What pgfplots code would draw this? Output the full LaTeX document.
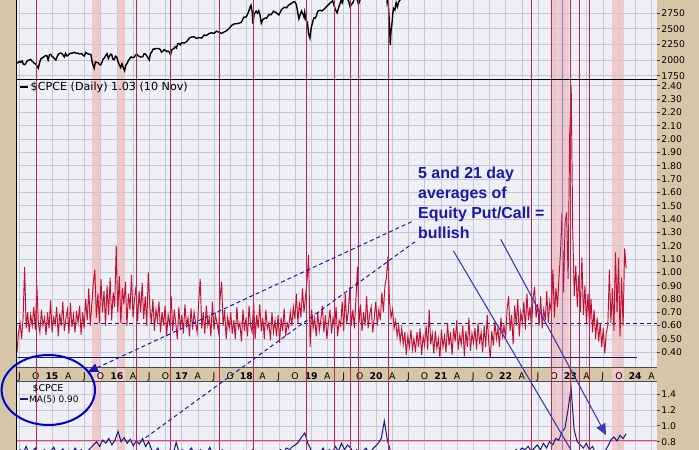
\documentclass[border=0pt]{standalone}
\usepackage{pgfplots}
\pgfplotsset{compat=1.18}
\usepackage{pgfplotstable}
\usepackage{fontspec}
\setmainfont{DejaVu Sans}
\newfontfamily\annfont{Liberation Sans}
\usetikzlibrary{arrows.meta}

\definecolor{tanbg}{RGB}{214,198,168}
\definecolor{panelbg}{RGB}{239,239,247}
\definecolor{gridc}{RGB}{200,200,212}
\definecolor{sig}{RGB}{195,35,80}
\definecolor{bandc}{RGB}{240,202,202}
\definecolor{cpce}{RGB}{195,15,50}
\definecolor{navy}{RGB}{25,25,120}
\definecolor{annot}{RGB}{25,25,170}
\definecolor{maline}{RGB}{235,70,110}
\definecolor{purp}{RGB}{150,120,210}

\pgfplotstableread[row sep=\\,header=false]{
0.40\\0.55\\0.62\\0.50\\0.66\\1.04\\0.58\\0.70\\0.55\\0.68\\0.60\\0.74\\0.57\\0.90\\0.62\\0.55\\0.72\\0.60\\0.66\\0.53\\
0.70\\0.58\\0.79\\0.55\\0.66\\0.61\\0.74\\0.52\\0.69\\0.60\\0.78\\0.56\\0.65\\0.72\\0.54\\0.77\\0.59\\0.68\\0.55\\0.71\\
0.62\\0.75\\0.53\\0.70\\0.58\\0.80\\0.64\\0.88\\0.60\\0.76\\0.92\\1.02\\0.66\\0.84\\0.62\\0.95\\0.70\\0.86\\0.60\\0.90\\
0.68\\0.96\\0.64\\0.85\\0.74\\1.20\\0.70\\0.97\\0.62\\0.88\\0.76\\0.93\\0.60\\0.84\\0.72\\0.98\\0.66\\0.80\\0.90\\0.63\\
0.86\\0.70\\0.92\\0.65\\0.82\\0.60\\1.00\\0.74\\0.62\\0.80\\0.56\\0.72\\0.64\\0.78\\0.55\\0.70\\0.60\\0.75\\0.52\\0.68\\
0.60\\0.82\\0.56\\0.72\\0.62\\0.50\\0.74\\0.58\\0.68\\0.54\\0.76\\0.60\\0.66\\0.52\\0.73\\0.57\\0.70\\0.62\\0.55\\0.78\\
0.95\\0.58\\0.70\\0.54\\0.75\\0.60\\0.66\\0.52\\0.78\\0.57\\0.68\\0.62\\0.55\\0.80\\0.93\\0.60\\0.72\\0.50\\0.66\\0.58\\
0.70\\0.54\\0.64\\0.50\\0.74\\0.58\\0.62\\0.48\\0.72\\0.56\\0.66\\0.52\\0.75\\0.60\\0.55\\0.78\\0.50\\0.68\\0.58\\0.76\\
0.56\\0.66\\0.50\\0.72\\0.58\\0.62\\0.49\\0.70\\0.55\\0.64\\0.52\\0.68\\0.47\\0.66\\0.56\\0.73\\0.52\\0.62\\0.58\\0.70\\
0.60\\0.74\\0.65\\0.84\\0.62\\0.78\\0.66\\0.88\\0.70\\0.82\\0.94\\1.13\\0.44\\0.72\\0.58\\0.66\\0.52\\0.70\\0.56\\0.64\\
0.75\\0.55\\0.68\\0.50\\0.62\\0.72\\0.54\\0.66\\0.58\\0.74\\0.52\\0.64\\0.60\\0.78\\0.56\\0.84\\0.62\\0.70\\0.89\\0.60\\
0.72\\0.58\\0.80\\1.04\\0.62\\0.76\\0.56\\0.70\\0.60\\0.82\\0.58\\0.68\\0.74\\0.55\\0.66\\0.78\\0.60\\0.72\\0.64\\0.85\\
0.70\\0.90\\0.96\\1.12\\0.78\\0.66\\0.72\\0.58\\0.64\\0.52\\0.60\\0.48\\0.58\\0.46\\0.55\\0.38\\0.52\\0.44\\0.57\\0.42\\
0.50\\0.40\\0.55\\0.44\\0.58\\0.38\\0.52\\0.45\\0.60\\0.42\\0.72\\0.46\\0.54\\0.39\\0.56\\0.43\\0.50\\0.36\\0.57\\0.44\\
0.52\\0.40\\0.62\\0.45\\0.55\\0.38\\0.58\\0.48\\0.64\\0.42\\0.53\\0.46\\0.60\\0.37\\0.56\\0.44\\0.66\\0.41\\0.54\\0.47\\
0.58\\0.42\\0.62\\0.46\\0.55\\0.40\\0.60\\0.44\\0.68\\0.47\\0.36\\0.56\\0.45\\0.63\\0.50\\0.58\\0.44\\0.66\\0.52\\0.60\\
0.50\\0.72\\0.82\\0.56\\0.68\\0.46\\0.75\\0.60\\0.80\\0.52\\0.70\\0.62\\0.78\\0.57\\0.84\\0.64\\0.74\\0.58\\0.80\\0.89\\
0.66\\0.76\\0.60\\0.82\\0.58\\0.72\\0.64\\0.86\\0.62\\0.78\\0.70\\1.02\\0.66\\0.88\\0.74\\0.96\\1.15\\1.45\\0.85\\1.37\\
1.45\\0.95\\2.03\\2.40\\1.32\\0.82\\1.05\\0.74\\0.98\\0.70\\1.11\\0.68\\0.90\\0.62\\0.84\\0.58\\0.80\\0.55\\0.72\\0.50\\
0.66\\0.48\\0.62\\0.44\\0.58\\0.39\\0.55\\0.60\\1.02\\0.62\\0.88\\0.56\\1.15\\0.70\\1.11\\0.52\\0.96\\0.60\\1.18\\1.03\\
}\cpcetable

\pgfplotstableread[row sep=\\,header=false]{
0.62\\0.70\\0.66\\0.74\\0.64\\0.68\\0.72\\0.63\\0.66\\0.70\\0.62\\0.68\\0.73\\0.64\\0.67\\0.71\\0.63\\0.69\\0.65\\0.72\\
0.66\\0.70\\0.64\\0.68\\0.72\\0.76\\0.80\\0.74\\0.82\\0.78\\0.84\\0.76\\0.82\\0.93\\0.80\\0.85\\0.78\\0.83\\0.75\\0.81\\
0.77\\0.84\\0.74\\0.80\\0.70\\0.66\\0.72\\0.64\\0.68\\0.62\\0.70\\0.65\\0.79\\0.66\\0.70\\0.63\\0.68\\0.72\\0.64\\0.67\\
0.70\\0.62\\0.66\\0.73\\0.64\\0.68\\0.61\\0.70\\0.65\\0.62\\0.68\\0.60\\0.66\\0.63\\0.69\\0.61\\0.65\\0.70\\0.62\\0.67\\
0.64\\0.60\\0.66\\0.62\\0.68\\0.64\\0.70\\0.66\\0.72\\0.70\\0.74\\0.76\\0.80\\0.86\\0.91\\0.78\\0.70\\0.64\\0.68\\0.66\\
0.72\\0.64\\0.70\\0.66\\0.74\\0.68\\0.78\\0.70\\0.76\\0.72\\0.66\\0.70\\0.64\\0.68\\0.72\\0.66\\0.70\\0.74\\0.78\\0.84\\
1.06\\0.82\\0.68\\0.60\\0.56\\0.52\\0.50\\0.48\\0.50\\0.47\\0.49\\0.46\\0.48\\0.45\\0.47\\0.50\\0.46\\0.48\\0.45\\0.49\\
0.47\\0.50\\0.46\\0.48\\0.52\\0.47\\0.49\\0.46\\0.50\\0.48\\0.45\\0.49\\0.47\\0.51\\0.48\\0.52\\0.50\\0.54\\0.52\\0.56\\
0.58\\0.62\\0.66\\0.70\\0.68\\0.72\\0.70\\0.74\\0.68\\0.72\\0.76\\0.70\\0.78\\0.72\\0.80\\0.76\\0.84\\0.82\\0.92\\0.97\\
1.20\\1.48\\0.95\\0.80\\0.76\\0.72\\0.78\\0.70\\0.74\\0.66\\0.62\\0.60\\0.68\\0.74\\0.82\\0.86\\0.81\\0.88\\0.84\\0.90\\
}\matable

\pgfplotsset{
  panel/.style={
    scale only axis, width=640bp, xmin=2014.46, xmax=2024.336,
    anchor=south west,
    axis line style={draw=none},
    grid=major, grid style={gridc, line width=0.5bp},
    xtick={2014.5,2014.75,2015,2015.25,2015.5,2015.75,2016,2016.25,2016.5,2016.75,2017,2017.25,2017.5,2017.75,2018,2018.25,2018.5,2018.75,2019,2019.25,2019.5,2019.75,2020,2020.25,2020.5,2020.75,2021,2021.25,2021.5,2021.75,2022,2022.25,2022.5,2022.75,2023,2023.25,2023.5,2023.75,2024,2024.25},
    xtick style={draw=none},
    ytick pos=right, yticklabel pos=right,
    tick align=outside, major tick length=3bp,
    ytick style={black!75, line width=0.6bp},
    tick label style={font=\fontsize{9.3}{10}\selectfont, inner sep=1.2bp},
    /pgf/number format/assume math mode=true,
  }
}

\begin{document}
\begin{tikzpicture}
\useasboundingbox (0,0) rectangle (699bp,450bp);
\fill[tanbg] (0,0) rectangle (699bp,450bp);
% panel backgrounds
\fill[panelbg] (17bp,370bp) rectangle (657bp,450bp);
\fill[panelbg] (17bp,83bp) rectangle (657bp,370bp);
\fill[panelbg] (17bp,0bp) rectangle (657bp,69bp);

% signal bands and lines spanning all panels
\begin{axis}[scale only axis, width=640bp, height=450bp, at={(17bp,0bp)}, anchor=south west,
  xmin=2014.46, xmax=2024.336, ymin=0, ymax=1, hide axis]
  \fill[bandc] (axis cs:2015.622,0) rectangle (axis cs:2015.752,1);
  \fill[bandc] (axis cs:2016.008,0) rectangle (axis cs:2016.127,1);
  \fill[bandc] (axis cs:2022.711,0) rectangle (axis cs:2022.978,1);
  \fill[bandc] (axis cs:2023.647,0) rectangle (axis cs:2023.824,1);
\end{axis}

% top panel: S&P 500
\begin{axis}[panel, at={(17bp,370bp)}, height=80bp, ymin=1681, ymax=2957,
  ytick={1750,2000,2250,2500,2750}, xticklabels={},
  yticklabel style={/pgf/number format/set thousands separator={}}]
\addplot[black, line width=1.4bp] coordinates {
(2014.46,1950) (2014.48,1962) (2014.50,1978) (2014.52,1965) (2014.54,1985) (2014.56,1930) (2014.58,1925) (2014.60,1955)
(2014.62,1990) (2014.65,2000) (2014.67,2010) (2014.69,1985) (2014.71,1965) (2014.75,1930) (2014.77,1905) (2014.79,1870)
(2014.81,1965) (2014.83,2020) (2014.86,2040) (2014.88,2055) (2014.90,2070) (2014.92,2070) (2014.94,2000) (2014.96,2080)
(2014.98,2090) (2015.00,2058) (2015.02,2044) (2015.04,2020) (2015.06,2000) (2015.08,2055) (2015.10,2095) (2015.13,2110)
(2015.15,2105) (2015.17,2080) (2015.19,2050) (2015.21,2105) (2015.23,2065) (2015.25,2075) (2015.27,2100) (2015.29,2110)
(2015.31,2108) (2015.33,2115) (2015.35,2122) (2015.37,2107) (2015.40,2110) (2015.42,2095) (2015.44,2095) (2015.46,2105)
(2015.48,2075) (2015.50,2065) (2015.52,2120) (2015.54,2105) (2015.56,2095) (2015.58,2090) (2015.60,2090) (2015.62,1970)
(2015.64,1893) (2015.65,1867) (2015.67,1970) (2015.69,1961) (2015.71,1958) (2015.73,1932) (2015.75,1920) (2015.77,1960)
(2015.79,2018) (2015.81,2033) (2015.83,2075) (2015.85,2100) (2015.87,2024) (2015.90,2089) (2015.92,2090) (2015.94,2012)
(2015.96,2005) (2015.98,2060) (2016.00,2044) (2016.02,1970) (2016.04,1920) (2016.06,1880) (2016.08,1940) (2016.10,1880)
(2016.12,1829) (2016.14,1917) (2016.16,1948) (2016.18,1993) (2016.20,2022) (2016.22,2049) (2016.25,2037) (2016.27,2047)
(2016.29,2080) (2016.31,2091) (2016.33,2065) (2016.35,2057) (2016.37,2046) (2016.40,2052) (2016.42,2099) (2016.44,2096)
(2016.46,2071) (2016.48,2037) (2016.50,2000) (2016.52,2102) (2016.54,2129) (2016.56,2175) (2016.58,2173) (2016.60,2182)
(2016.62,2184) (2016.65,2180) (2016.67,2169) (2016.69,2128) (2016.71,2139) (2016.73,2164) (2016.75,2153) (2016.77,2133)
(2016.79,2141) (2016.81,2126) (2016.83,2085) (2016.85,2164) (2016.88,2181) (2016.90,2213) (2016.92,2191) (2016.94,2259)
(2016.96,2263) (2016.98,2239) (2017.00,2277) (2017.04,2270) (2017.08,2295) (2017.12,2351) (2017.15,2364) (2017.19,2372)
(2017.23,2344) (2017.27,2359) (2017.31,2349) (2017.35,2399) (2017.38,2390) (2017.42,2420) (2017.46,2433) (2017.50,2425)
(2017.54,2459) (2017.58,2441) (2017.62,2425) (2017.65,2443) (2017.69,2465) (2017.73,2500) (2017.77,2550) (2017.81,2575)
(2017.85,2580) (2017.88,2585) (2017.92,2600) (2017.96,2680) (2018.00,2690) (2018.04,2786) (2018.06,2850) (2018.07,2873)
(2018.09,2762) (2018.10,2581) (2018.12,2732) (2018.15,2779) (2018.17,2747) (2018.19,2786) (2018.21,2716) (2018.23,2588)
(2018.25,2640) (2018.27,2656) (2018.29,2670) (2018.31,2664) (2018.35,2727) (2018.38,2721) (2018.42,2779) (2018.46,2754)
(2018.50,2718) (2018.54,2801) (2018.58,2840) (2018.62,2833) (2018.65,2874) (2018.69,2901) (2018.73,2929) (2018.75,2925)
(2018.77,2886) (2018.79,2767) (2018.81,2658) (2018.83,2723) (2018.85,2781) (2018.87,2736) (2018.89,2681) (2018.90,2760)
(2018.92,2633) (2018.94,2600) (2018.96,2416) (2018.98,2351) (2019.00,2510) (2019.02,2596) (2019.04,2670) (2019.06,2664)
(2019.08,2707) (2019.10,2775) (2019.13,2792) (2019.17,2784) (2019.21,2822) (2019.25,2867) (2019.29,2907) (2019.33,2945)
(2019.35,2881) (2019.37,2812) (2019.40,2752) (2019.42,2826) (2019.44,2886) (2019.46,2950) (2019.48,2913) (2019.50,2990)
(2019.54,3013) (2019.58,2932) (2019.60,2847) (2019.62,2883) (2019.65,2926) (2019.67,3007) (2019.69,2992) (2019.71,2961)
(2019.73,2887) (2019.75,2952) (2019.77,2986) (2019.79,3023) (2019.83,3070) (2019.90,3140) (2020.00,3230) (2020.10,3330)
(2020.13,3386) (2020.15,3337) (2020.16,3128) (2020.17,2954) (2020.18,3023) (2020.19,2882) (2020.20,2711) (2020.21,2480)
(2020.215,2386) (2020.22,2237) (2020.23,2447) (2020.24,2527) (2020.25,2626) (2020.26,2749) (2020.27,2823) (2020.29,2798)
(2020.31,2912) (2020.33,2848) (2020.35,2929) (2020.37,2955) (2020.40,3055) (2020.42,3232) (2020.45,3097) (2020.50,3185)
(2020.60,3380) (2020.80,3400) (2021.00,3750) (2022.00,4770) (2022.30,4100) (2022.50,3670) (2022.60,4280) (2022.78,3580)
(2023.00,3850) (2023.50,4450) (2023.60,4580) (2023.82,4120) (2023.86,4415)
};
\end{axis}

% middle panel: $CPCE daily
\begin{axis}[panel, at={(17bp,83bp)}, height=287bp, ymin=0.2896, ymax=2.4426,
  ytick={0.4,0.5,0.6,0.7,0.8,0.9,1.0,1.1,1.2,1.3,1.4,1.5,1.6,1.7,1.8,1.9,2.0,2.1,2.2,2.3,2.4},
  yticklabel style={/pgf/number format/.cd, fixed, fixed zerofill, precision=2},
  xticklabels={J,O,\textbf{15},A,J,O,\textbf{16},A,J,O,\textbf{17},A,J,O,\textbf{18},A,J,O,\textbf{19},A,J,O,\textbf{20},A,J,O,\textbf{21},A,J,O,\textbf{22},A,J,O,\textbf{23},A,J,O,\textbf{24},A},
  xticklabel style={anchor=north, inner sep=0bp, yshift=-2.6bp}]
\addplot[navy, line width=0.9bp] coordinates {(2014.46,0.363) (2024.03,0.363)};
\addplot[navy, line width=0.8bp, dash pattern=on 4bp off 3bp] coordinates {(2014.46,0.62) (2024.336,0.62)};
\addplot[cpce, line width=0.95bp] table[x expr={2014.46+\coordindex*0.023559}, y index=0] {\cpcetable};
\end{axis}

% bottom panel: MA(5)
\begin{axis}[panel, at={(17bp,0bp)}, height=69bp, ymin=0.6956, ymax=1.5635,
  ytick={0.8,1.0,1.2,1.4}, xticklabels={},
  yticklabel style={/pgf/number format/.cd, fixed, fixed zerofill, precision=1}]
\addplot[maline, line width=1.6bp] coordinates {(2014.46,0.813) (2024.336,0.813)};
\addplot[navy, line width=1bp] table[x expr={2014.46+\coordindex*0.047236}, y index=0] {\matable};
\end{axis}

% signal lines over everything (as in the reference)
\begin{axis}[scale only axis, width=640bp, height=450bp, at={(17bp,0bp)}, anchor=south west,
  xmin=2014.46, xmax=2024.336, ymin=0, ymax=1, hide axis]
  \pgfplotsinvokeforeach{2014.764,2016.307,2016.832,2017.582,2018.106,2018.930,2019.356,2019.610,2019.730,2020.190,2022.403,2022.711,2023.005,2023.140,2023.292}{
    \draw[sig, line width=1.1bp] (axis cs:#1,0) -- (axis cs:#1,1);
  }
  \draw[purp, line width=0.9bp] (axis cs:2022.878,0) -- (axis cs:2022.878,1);
\end{axis}

% borders
\draw[black, line width=1bp] (16.5bp,0) -- (16.5bp,450bp);
\draw[black, line width=1bp] (17bp,370bp) -- (657bp,370bp);
\draw[black!70, line width=0.8bp] (17bp,83bp) -- (657bp,83bp);
\draw[black!70, line width=0.8bp] (17bp,69bp) -- (657bp,69bp);
\node[anchor=west, inner sep=1.2bp, font=\fontsize{9.3}{10}\selectfont] at (660bp,452.5bp) {3000};

% legends
\draw[black, line width=2.2bp] (20bp,363bp) -- (28bp,363bp);
\node[anchor=west, inner sep=0bp, font=\fontsize{11.2}{12}\selectfont] at (30.5bp,363bp) {\$CPCE (Daily) 1.03 (10 Nov)};
\node[inner sep=0bp, font=\fontsize{9.5}{11}\selectfont] at (48bp,61bp) {\$CPCE};
\draw[navy, line width=2bp] (20bp,50.5bp) -- (28bp,50.5bp);
\node[anchor=west, inner sep=0bp, font=\fontsize{9}{11}\selectfont] at (29bp,50.5bp) {MA(5) 0.90};

% annotations
\begin{scope}[font=\annfont\bfseries\fontsize{16}{18}\selectfont, annot]
\node[anchor=base west, inner sep=0bp] at (418bp,271bp) {5 and 21 day};
\node[anchor=base west, inner sep=0bp] at (418bp,251bp) {averages of};
\node[anchor=base west, inner sep=0bp] at (418bp,231bp) {Equity Put/Call =};
\node[anchor=base west, inner sep=0bp] at (418bp,211bp) {bullish};
\end{scope}
\draw[annot, line width=1bp, dash pattern=on 4bp off 3bp, -{Triangle[length=10bp,width=9bp]}] (411.7bp,228.3bp) -- (88bp,78bp);
\draw[annot, line width=1bp, dash pattern=on 4bp off 3bp] (415bp,208.3bp) -- (138.3bp,7bp);
\draw[annot!85!white, line width=1.1bp] (453.3bp,199.3bp) -- (574bp,-5bp);
\draw[annot!85!white, line width=1.1bp, -{Triangle[length=11bp,width=10bp]}] (500.7bp,210.7bp) -- (606bp,15bp);
\draw[blue!80!black, line width=2bp] (48.3bp,60bp) ellipse [x radius=46.7bp, y radius=35bp];
\end{tikzpicture}
\end{document}
